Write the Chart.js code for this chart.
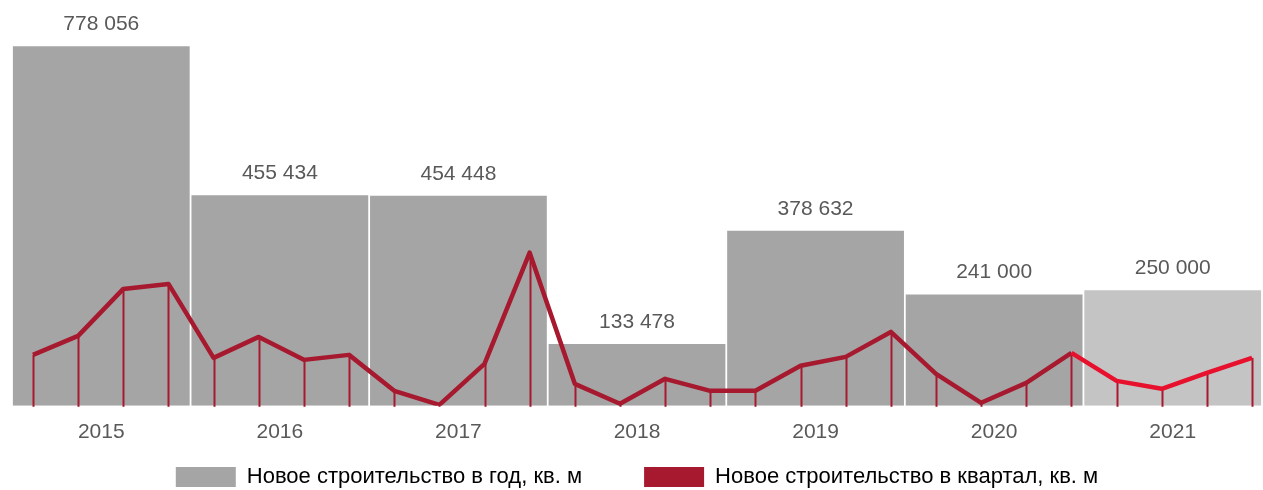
<!DOCTYPE html>
<html>
<head>
<meta charset="utf-8">
<script src="https://cdn.jsdelivr.net/npm/chart.js@4"></script>
<style>
  html, body { margin: 0; padding: 0; background: #fff; }
  #wrap { width: 1263px; height: 490px; }
</style>
</head>
<body>
<div id="wrap"><canvas id="stroika"></canvas></div>
<script>
const years = ['2015', '2016', '2017', '2018', '2019', '2020', '2021'];
const perYear = [778056, 455434, 454448, 133478, 378632, 241000, 250000];

// квартальные значения, по 4 на год
const perQuarter = [
  110200, 151300, 252900, 263700,
  103700, 149100, 99400, 110200,
  32400, 2000, 90800, 331300,
  47500, 4300, 58400, 32400,
  32400, 86500, 105900, 159900,
  69200, 6500, 49700, 114500,
  54000, 36700, 71300, 103700
];

const legendNames = ['Новое строительство в год, кв. м', 'Новое строительство в квартал, кв. м'];

const GREY = '#a5a5a5';
const GREY_LIGHT = '#c4c4c4';
const RED = '#a6192e';
const RED_BRIGHT = '#e8112d';
const TEXT = '#595959';
const FONT = "'Liberation Sans', Arial, sans-serif";

function fmt(v) {
  return String(v).replace(/\B(?=(\d{3})+(?!\d))/g, ' ');
}

// подписи над столбцами + вертикальные линии от точек к оси
const extras = {
  id: 'extras',
  afterDatasetDraw(chart, args) {
    if (args.meta.type !== 'bar') return;
    const ctx = chart.ctx;
    const lineMeta = chart.getDatasetMeta(0);
    const y0 = chart.scales.y.getPixelForValue(0);
    ctx.save();
    ctx.strokeStyle = RED;
    ctx.lineWidth = 2;
    lineMeta.data.forEach(p => {
      ctx.beginPath();
      ctx.moveTo(Math.round(p.x) + 0.5, p.y);
      ctx.lineTo(Math.round(p.x) + 0.5, y0 + 1);
      ctx.stroke();
    });
    ctx.fillStyle = TEXT;
    ctx.font = '21px ' + FONT;
    ctx.textAlign = 'center';
    ctx.textBaseline = 'middle';
    args.meta.data.forEach((bar, i) => {
      ctx.fillText(fmt(perYear[i]), bar.x, bar.y - 22);
    });
    ctx.restore();
  }
};

new Chart(document.getElementById('stroika'), {
  type: 'bar',
  data: {
    labels: years,
    datasets: [{
      type: 'line',
      label: legendNames[1],
      data: perQuarter.map((v, i) => ({ x: i, y: v })),
      xAxisID: 'xq',
      borderColor: RED,
      backgroundColor: RED,
      borderWidth: 4.5,
      borderJoinStyle: 'round',
      pointRadius: 0,
      tension: 0,
      order: 0,
      segment: {
        borderColor: c => c.p0DataIndex >= 23 ? RED_BRIGHT : RED
      }
    }, {
      label: legendNames[0],
      data: perYear,
      xAxisID: 'x',
      backgroundColor: perYear.map((v, i) => i === perYear.length - 1 ? GREY_LIGHT : GREY),
      grouped: false,
      barPercentage: 0.99,
      categoryPercentage: 1,
      order: 1
    }]
  },
  options: {
    responsive: true,
    maintainAspectRatio: false,
    animation: false,
    layout: { padding: { top: 13, left: 12, right: 1, bottom: -8 } },
    scales: {
      x: {
        offset: true,
        grid: { display: false, drawTicks: false },
        border: { display: false },
        ticks: { color: TEXT, padding: 14, font: { size: 21, family: FONT } }
      },
      xq: {
        type: 'linear',
        offset: false,
        min: -0.465,
        max: 27.22,
        display: false
      },
      y: {
        display: false,
        min: 0,
        max: 850000
      }
    },
    plugins: {
      tooltip: { enabled: false },
      legend: {
        position: 'bottom',
        labels: {
          boxWidth: 60,
          boxHeight: 20,
          padding: 7,
          color: TEXT,
          font: { size: 22, family: FONT },
          generateLabels: () => [
            // хвостовые пробелы дают отступ между элементами легенды
            { text: legendNames[0] + ' '.repeat(9), fillStyle: GREY, strokeStyle: GREY, lineWidth: 0, datasetIndex: 1 },
            { text: legendNames[1], fillStyle: RED, strokeStyle: RED, lineWidth: 0, datasetIndex: 0 }
          ]
        }
      }
    }
  },
  plugins: [extras]
});
</script>
</body>
</html>
